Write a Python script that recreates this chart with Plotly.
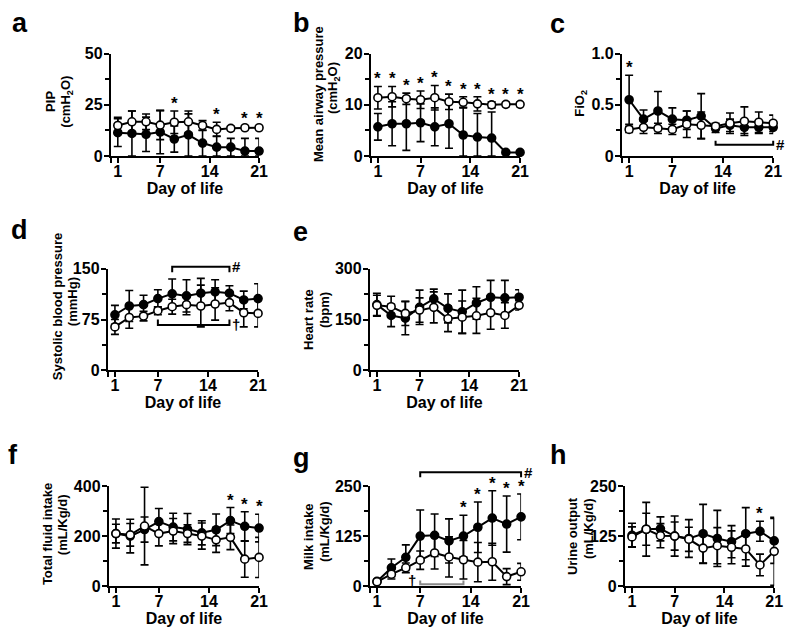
import plotly.graph_objects as go

W, H = 800, 640
FONT = "Liberation Sans"

days = [1, 3, 5, 7, 9, 11, 13, 15, 17, 19, 21]
x_tickvals = [1, 7, 14, 21]
x_ticktext = ["1", "7", "14", "21"]
x_title = "Day of life"

# a  PIP
pip_filled_mean = [11.4, 11.0, 10.6, 11.7, 8.3, 10.3, 6.3, 4.3, 4.3, 2.4, 2.4]
pip_filled_sd = [6.8, 11.0, 8.4, 10.6, 6.4, 10.3, 6.3, 5.5, 4.3, 6.2, 6.2]
pip_open_mean = [14.9, 16.7, 16.7, 15.1, 16.5, 16.7, 14.9, 13.0, 13.5, 13.8, 13.8]
pip_open_sd = [4.0, 5.3, 3.8, 7.1, 5.5, 5.3, 2.4, 3.5, 1.0, 0.8, 0.8]
pip_stars = [9, 15, 19, 21]

# b  Mean airway pressure
map_filled_mean = [5.7, 6.3, 6.3, 6.5, 5.7, 6.3, 4.1, 3.7, 3.5, 0.7, 0.7]
map_filled_sd = [2.6, 4.3, 5.2, 3.7, 3.7, 4.8, 5.4, 4.6, 5.1, 0.3, 0.3]
map_open_mean = [11.4, 11.6, 11.2, 11.0, 11.4, 10.6, 10.5, 10.2, 10.0, 10.1, 10.1]
map_open_sd = [2.2, 2.0, 1.1, 1.7, 2.4, 1.5, 1.1, 1.4, 0.6, 0.4, 0.4]
map_stars = [1, 3, 5, 7, 9, 11, 13, 15, 17, 19, 21]

# c  FiO2
fio2_filled_mean = [0.55, 0.36, 0.44, 0.36, 0.35, 0.39, 0.27, 0.30, 0.28, 0.28, 0.28]
fio2_filled_sd = [0.24, 0.09, 0.19, 0.11, 0.09, 0.22, 0.04, 0.06, 0.06, 0.06, 0.06]
fio2_open_mean = [0.26, 0.28, 0.27, 0.26, 0.31, 0.30, 0.29, 0.32, 0.34, 0.33, 0.32]
fio2_open_sd = [0.03, 0.06, 0.05, 0.05, 0.13, 0.13, 0.03, 0.10, 0.14, 0.10, 0.08]
fio2_stars = [1]

# d  Systolic blood pressure
sbp_filled_mean = [82, 95, 97, 106, 113, 110, 114, 116, 114, 104, 106]
sbp_filled_sd = [14, 23, 14, 13, 22, 24, 22, 18, 11, 13, 22]
sbp_open_mean = [64, 78, 80, 88, 94, 97, 95, 98, 100, 85, 84]
sbp_open_sd = [11, 16, 7, 6, 11, 15, 31, 24, 12, 21, 20]

# e  Heart rate
hr_filled_mean = [194, 162, 154, 186, 211, 183, 173, 199, 216, 214, 216]
hr_filled_sd = [34, 33, 49, 51, 29, 43, 64, 48, 50, 52, 22]
hr_open_mean = [192, 188, 168, 178, 186, 152, 157, 161, 170, 162, 192]
hr_open_sd = [30, 31, 36, 36, 46, 38, 48, 52, 49, 38, 14]

# f  Total fluid intake
tfi_filled_mean = [210, 200, 226, 258, 236, 228, 213, 225, 262, 239, 232]
tfi_filled_sd = [58, 67, 50, 52, 55, 62, 48, 63, 52, 58, 55]
tfi_open_mean = [210, 205, 240, 210, 220, 210, 200, 185, 195, 108, 115]
tfi_open_sd = [37, 45, 155, 49, 50, 35, 52, 50, 49, 72, 80]
tfi_stars = [17, 19, 21]

# g  Milk intake
milk_filled_mean = [12, 46, 72, 125, 127, 113, 125, 147, 170, 155, 173]
milk_filled_sd = [5, 22, 31, 65, 53, 55, 52, 63, 68, 70, 57]
milk_open_mean = [11, 30, 46, 65, 83, 73, 66, 60, 61, 24, 36]
milk_open_sd = [4, 12, 12, 23, 40, 50, 48, 49, 46, 20, 21]
milk_stars = [13, 15, 17, 19, 21]

# h  Urine output
uo_filled_mean = [127, 142, 143, 125, 119, 131, 119, 111, 131, 137, 113]
uo_filled_sd = [30, 40, 30, 50, 47, 73, 70, 40, 65, 25, 56]
uo_open_mean = [123, 142, 126, 125, 117, 95, 101, 97, 93, 53, 87]
uo_open_sd = [25, 67, 30, 35, 30, 38, 45, 41, 43, 27, 85]
uo_stars = [19]

panels = [
    dict(letter="a", fm=pip_filled_mean, fs=pip_filled_sd, om=pip_open_mean, osd=pip_open_sd,
         ymax=50, yt=[0, 25, 50], ytt=["0", "25", "50"], yminor=[12.5, 37.5],
         title=["PIP", "(cmH<sub>2</sub>O)"], tx=[51, 67], ty=[96, 96],
         stars=pip_stars, brackets=[], box=(112, 262, 47, 152), lpos=(20, 15)),
    dict(letter="b", fm=map_filled_mean, fs=map_filled_sd, om=map_open_mean, osd=map_open_sd,
         ymax=20, yt=[0, 10, 20], ytt=["0", "10", "20"], yminor=[5, 15],
         title=["Mean airway pressure", "(cmH<sub>2</sub>O)"], tx=[322, 338], ty=[88, 82],
         stars=map_stars, brackets=[], box=(375, 526, 47, 152), lpos=(305, 15)),
    dict(letter="c", fm=fio2_filled_mean, fs=fio2_filled_sd, om=fio2_open_mean, osd=fio2_open_sd,
         ymax=1.0, yt=[0, 0.5, 1.0], ytt=["0", "0.5", "1.0"], yminor=[0.25, 0.75],
         title=["FiO<sub>2</sub>"], tx=[587], ty=[98], stars=fio2_stars,
         brackets=[dict(x0=13, x1=21, y=0.11, ytick=0.15, sym="#", side="right", color="black")],
         box=(629, 782, 47, 152), lpos=(564, 16)),
    dict(letter="d", fm=sbp_filled_mean, fs=sbp_filled_sd, om=sbp_open_mean, osd=sbp_open_sd,
         ymax=150, yt=[0, 75, 150], ytt=["0", "75", "150"], yminor=[37.5, 112.5],
         title=["Systolic blood pressure", "(mmHg)"], tx=[58, 74], ty=[307, 302], stars=[],
         brackets=[dict(x0=9, x1=17, y=153, ytick=145, sym="#", side="right", color="black"),
                   dict(x0=7, x1=17, y=67, ytick=75, sym="†", side="right", color="black")],
         box=(109, 261, 268, 372), lpos=(20, 228)),
    dict(letter="e", fm=hr_filled_mean, fs=hr_filled_sd, om=hr_open_mean, osd=hr_open_sd,
         ymax=300, yt=[0, 150, 300], ytt=["0", "150", "300"], yminor=[75, 225],
         title=["Heart rate", "(bpm)"], tx=[312, 328], ty=[320, 310], stars=[], brackets=[],
         box=(374, 525, 268, 372), lpos=(304, 230)),
    dict(letter="f", fm=tfi_filled_mean, fs=tfi_filled_sd, om=tfi_open_mean, osd=tfi_open_sd,
         ymax=400, yt=[0, 200, 400], ytt=["0", "200", "400"], yminor=[100, 300],
         title=["Total fluid intake", "(mL/Kg/d)"], tx=[48, 64], ty=[540, 531],
         stars=tfi_stars, brackets=[], box=(110, 262, 491, 594), lpos=(13, 459)),
    dict(letter="g", fm=milk_filled_mean, fs=milk_filled_sd, om=milk_open_mean, osd=milk_open_sd,
         ymax=250, yt=[0, 125, 250], ytt=["0", "125", "250"], yminor=[62.5, 187.5],
         title=["Milk intake", "(mL/Kg/d)"], tx=[312, 328], ty=[543, 538], stars=milk_stars,
         brackets=[dict(x0=7, x1=21, y=284, ytick=272, sym="#", side="right", color="black"),
                   dict(x0=7, x1=13, y=5, ytick=14, sym="†", side="left", color="#8a8a8a")],
         box=(374, 527, 491, 594), lpos=(305, 462)),
    dict(letter="h", fm=uo_filled_mean, fs=uo_filled_sd, om=uo_open_mean, osd=uo_open_sd,
         ymax=250, yt=[0, 125, 250], ytt=["0", "125", "250"], yminor=[62.5, 187.5],
         title=["Urine output", "(mL/Kg/d)"], tx=[579, 595], ty=[542, 535], stars=uo_stars,
         brackets=[], box=(632, 783, 491, 594), lpos=(565, 459)),
]

XR = [0, 21]
fig = go.Figure()
layout = dict(width=W, height=H, margin=dict(l=0, r=0, t=0, b=0),
              paper_bgcolor="white", plot_bgcolor="white", showlegend=False)
annotations = []
shapes = []

tickfont = dict(family=FONT, size=16, color="black", weight="bold")
symfont = dict(family=FONT, size=15, color="black", weight="bold")
ytitlefont = dict(family=FONT, size=13, color="black", weight="bold")


def xd(v):
    return (v - XR[0]) / (XR[1] - XR[0])


for i, p in enumerate(panels):
    n = "" if i == 0 else str(i + 1)
    xa, ya = "x" + n, "y" + n
    x0, x1, yt_px, yb_px = p["box"]

    def yd(v, ymax=p["ymax"]):
        return v / ymax

    for mean, sd, fill in ((p["fm"], p["fs"], "black"), (p["om"], p["osd"], "white")):
        fig.add_trace(go.Scatter(
            x=days, y=mean, mode="lines+markers", xaxis=xa, yaxis=ya, cliponaxis=False,
            line=dict(color="black", width=2),
            marker=dict(symbol="circle", size=8, color=fill, line=dict(color="black", width=1.6)),
            error_y=dict(type="data", symmetric=False, array=sd,
                         arrayminus=[min(s, m) for s, m in zip(sd, mean)],
                         color="black", thickness=1.6, width=4),
            hoverinfo="skip"))

    layout["xaxis" + n] = dict(
        domain=[x0 / W, x1 / W], range=XR, anchor=ya,
        tickvals=x_tickvals, ticktext=x_ticktext, ticks="outside", ticklen=5, tickwidth=2,
        tickcolor="black", showline=True, linewidth=2, linecolor="black",
        showgrid=False, zeroline=False, tickfont=tickfont, ticklabelstandoff=-5,
        minor=dict(tickvals=[XR[0]], ticks="outside", ticklen=5, tickwidth=2, tickcolor="black"),
        title=dict(text=x_title, font=dict(family=FONT, size=16, color="black", weight="bold"),
                   standoff=0))
    layout["yaxis" + n] = dict(
        domain=[1 - yb_px / H, 1 - yt_px / H], range=[0, p["ymax"]], anchor=xa,
        tickvals=p["yt"], ticktext=p["ytt"], ticks="outside", ticklen=5, tickwidth=2,
        tickcolor="black", showline=True, linewidth=2, linecolor="black",
        showgrid=False, zeroline=False, tickfont=tickfont, ticklabelstandoff=-2,
        minor=dict(tickvals=p["yminor"], ticks="outside", ticklen=4, tickwidth=2,
                   tickcolor="black"))

    for line, tx, ty in zip(p["title"], p["tx"], p["ty"]):
        annotations.append(dict(xref="paper", yref="paper", x=tx / W, y=1 - ty / H,
                                text=line, textangle=-90, showarrow=False,
                                xanchor="center", yanchor="middle", font=ytitlefont))
    lx, ly = p["lpos"]
    annotations.append(dict(xref="paper", yref="paper", x=lx / W, y=1 - ly / H,
                            text=p["letter"], showarrow=False, xanchor="center", yanchor="middle",
                            font=dict(family=FONT, size=27, color="black", weight="bold")))
    for d in p["stars"]:
        k = days.index(d)
        top = max(p["fm"][k] + p["fs"][k], p["om"][k] + p["osd"][k])
        annotations.append(dict(xref=xa + " domain", yref=ya + " domain", x=xd(d), y=yd(top),
                                text="*", showarrow=False,
                                xanchor="center", yanchor="bottom", yshift=-4,
                                font=dict(family=FONT, size=17, color="black", weight="bold")))
    for b in p["brackets"]:
        path = "M {a},{b} L {a},{c} L {d},{c} L {d},{b}".format(
            a=xd(b["x0"]), b=yd(b["ytick"]), c=yd(b["y"]), d=xd(b["x1"]))
        shapes.append(dict(type="path", xref=xa + " domain", yref=ya + " domain", path=path,
                           line=dict(color=b["color"], width=2)))
        if b["side"] == "right":
            annotations.append(dict(xref=xa + " domain", yref=ya + " domain",
                                    x=xd(b["x1"]), y=yd(b["y"]), text=b["sym"],
                                    showarrow=False, xanchor="left", yanchor="middle", xshift=1,
                                    font=symfont))
        else:
            annotations.append(dict(xref=xa + " domain", yref=ya + " domain",
                                    x=xd(b["x0"]), y=yd(b["ytick"]), text=b["sym"],
                                    showarrow=False, xanchor="right", yanchor="middle", xshift=-2,
                                    font=symfont))

layout["annotations"] = annotations
layout["shapes"] = shapes
fig.update_layout(**layout)
fig.write_html("out.html", config={"displayModeBar": False},
               post_script="document.body.style.margin='0';document.body.style.overflow='hidden';")
